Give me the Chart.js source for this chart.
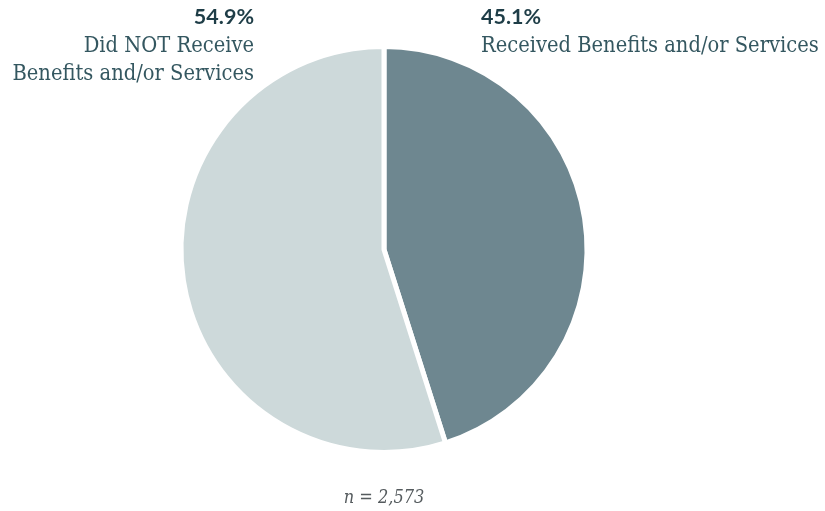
<!DOCTYPE html>
<html>
<head>
<meta charset="utf-8">
<script src="https://cdn.jsdelivr.net/npm/chart.js@4/dist/chart.umd.min.js"></script>
<style>
  html, body { margin: 0; padding: 0; background: #fff; }
  #wrap { position: relative; width: 825px; height: 511px; }
</style>
</head>
<body>
<div id="wrap"><canvas id="pie" width="825" height="511"></canvas></div>
<script>
const labels = ['Received Benefits and/or Services', 'Did NOT Receive Benefits and/or Services'];
const values = [45.1, 54.9];
const sliceColors = ['#6e8790', '#cdd9da'];
const sampleNote = 'n = 2,573';

const SERIF = '"DejaVu Serif Condensed", "DejaVu Serif", serif';
const SANS = 'Lato, "Open Sans", sans-serif';

// draws the two callouts above the pie and the sample size below it
const calloutPlugin = {
  id: 'callouts',
  afterDraw(chart) {
    const { ctx } = chart;
    ctx.save();
    ctx.textBaseline = 'alphabetic';

    // left callout: second slice
    ctx.textAlign = 'right';
    ctx.fillStyle = '#1e3d47';
    ctx.font = `bold 21.5px ${SANS}`;
    ctx.fillText(values[1].toFixed(1) + '%', 254, 24);
    ctx.fillStyle = '#345760';
    ctx.font = `21.7px ${SERIF}`;
    ctx.fillText('Did NOT Receive', 254, 52);
    ctx.fillText('Benefits and/or Services', 254, 80);

    // right callout: first slice
    ctx.textAlign = 'left';
    ctx.fillStyle = '#1e3d47';
    ctx.font = `bold 21.5px ${SANS}`;
    ctx.fillText(values[0].toFixed(1) + '%', 481, 24);
    ctx.fillStyle = '#345760';
    ctx.font = `21.7px ${SERIF}`;
    ctx.fillText(labels[0], 481, 52);

    ctx.textAlign = 'center';
    ctx.fillStyle = '#555b5e';
    ctx.font = `italic 18px ${SERIF}`;
    ctx.fillText(sampleNote, 384, 503);
    ctx.restore();
  },
};

new Chart(document.getElementById('pie'), {
  type: 'pie',
  data: {
    labels: labels,
    datasets: [
      {
        data: values,
        backgroundColor: sliceColors,
        borderColor: '#ffffff',
        borderWidth: 5,
      },
    ],
  },
  options: {
    responsive: false,
    animation: false,
    layout: {
      padding: { top: 44, bottom: 56, left: 0, right: 57 },
    },
    plugins: {
      legend: { display: false },
      tooltip: { enabled: false },
    },
  },
  plugins: [calloutPlugin],
});
</script>
</body>
</html>
